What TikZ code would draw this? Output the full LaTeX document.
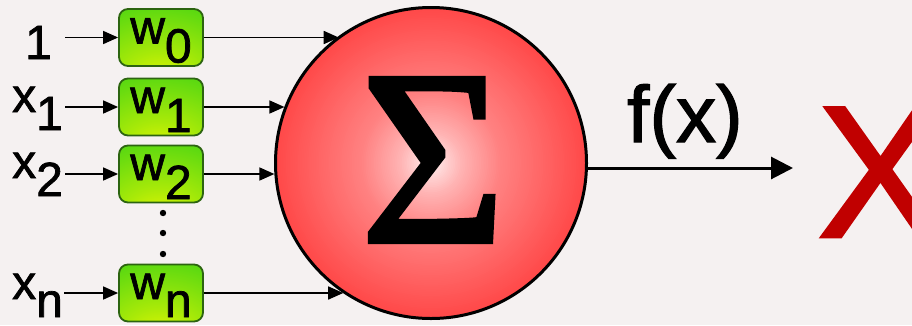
\documentclass[tikz,border=0pt]{standalone}
\usepackage{fontspec}
\setmainfont{Liberation Sans}[FakeBold=1.5]
\newfontfamily\serifsig{Liberation Serif}[FakeBold=1.8]
\usetikzlibrary{arrows.meta,calc}
\definecolor{bg}{HTML}{F5F1F1}
\definecolor{sigin}{HTML}{FFF0F0}
\definecolor{sigmid}{HTML}{FFB4B4}
\definecolor{sigmid2}{HTML}{FF8282}
\definecolor{sigout}{HTML}{FF4848}
\definecolor{gtop}{HTML}{4ED612}
\definecolor{gyel}{HTML}{F4FA00}
\definecolor{gborder}{HTML}{2C6410}
\definecolor{xred}{HTML}{C00000}
\pgfdeclareradialshading{wshade}{\pgfpoint{0bp}{-45bp}}{color(0bp)=(gyel); color(22bp)=(gyel!55!gtop); color(55bp)=(gtop); color(100bp)=(gtop)}
\begin{document}
\begin{tikzpicture}[x=1pt,y=-1pt,
  wbox/.style={draw=gborder, line width=1.8pt, rounded corners=9pt, shade, shading=wshade,
    minimum width=84pt, minimum height=57pt, inner sep=0pt, text height=30pt, text depth=18pt,
    font=\fontsize{48}{48}\selectfont},
  inlab/.style={anchor=base west, inner sep=0pt, font=\fontsize{48}{48}\selectfont},
  inarrow/.style={line width=1.6pt, -{Triangle[length=15pt,width=13pt]}},
  outarrow/.style={line width=3pt, -{Triangle[length=22pt,width=22pt]}}]
\clip (0,0) rectangle (912,325);
\useasboundingbox (0,0) rectangle (912,325);
\fill[bg] (0,0) rectangle (912,325);

% radial fill of the summation disc (concentric rings)
\foreach \i in {0,...,89} {
  \pgfmathsetmacro\t{1-\i/90}
  \pgfmathtruncatemacro\pa{max(0,min(100,(\t-0.45)/0.55*100))}
  \pgfmathtruncatemacro\pb{max(0,min(100,(\t-0.2)/0.25*100))}
  \pgfmathtruncatemacro\pc{max(0,min(100,\t/0.2*100))}
  \fill[color={sigout!\pa!sigmid2!\pb!sigmid!\pc!sigin}] (431,163) circle[radius=155.5*\t];
}
% summation node
\node[circle, draw=black, line width=3pt, minimum size=311pt, inner sep=0pt] (sig) at (431,163) {};
\node[inner sep=0pt, font=\serifsig\fontsize{250}{250}\selectfont] (sigma) at (433,160) {Σ};

% weight boxes
\node[wbox] (w0) at (161,37.5) {w\raisebox{-19pt}{0}};
\node[wbox] (w1) at (161,107) {w\raisebox{-19pt}{1}};
\node[wbox] (w2) at (161,174) {w\raisebox{-19pt}{2}};
\node[wbox] (wn) at (161,293) {w\raisebox{-18pt}{n}};

% input labels
\node[inlab] (l0) at (25,59) {1};
\node[inlab] (l1) at (12,112) {x\raisebox{-18pt}{1}};
\node[inlab] (l2) at (12,178) {x\raisebox{-18pt}{2}};
\node[inlab] (ln) at (12,299) {x\raisebox{-18pt}{n}};

% dots
\fill (163,213) circle[radius=3.2];
\fill (163,233) circle[radius=3.2];
\fill (163,254) circle[radius=3.2];

% input arrows
\draw[inarrow] ([xshift=-53pt]w0.west) -- (w0.west);
\draw[inarrow] ([xshift=-53pt]w1.west) -- (w1.west);
\draw[inarrow] ([xshift=-53pt]w2.west) -- (w2.west);
\draw[inarrow] ([xshift=-54pt]wn.west) -- (wn.west);

% weights to sum
\draw[inarrow] (w0.east) -- (w0.east -| sig.126.9);
\draw[inarrow] (w1.east) -- (w1.east -| sig.159.1);
\draw[inarrow] (w2.east) -- (w2.east -| sig.184);
\draw[inarrow] (wn.east) -- (wn.east -| sig.236.5);

% output
\coordinate (outend) at (793,168);
\draw[outarrow] (outend -| sig.east) -- (outend);
\node[anchor=base west, inner sep=0pt, font=\fontsize{80}{80}\selectfont] (fx) at (627,142) {f(x)};
\node[anchor=base west, inner sep=0pt, text=xred, font=\fontsize{188}{188}\selectfont] (y) at (817,237) {X};
\end{tikzpicture}
\end{document}
